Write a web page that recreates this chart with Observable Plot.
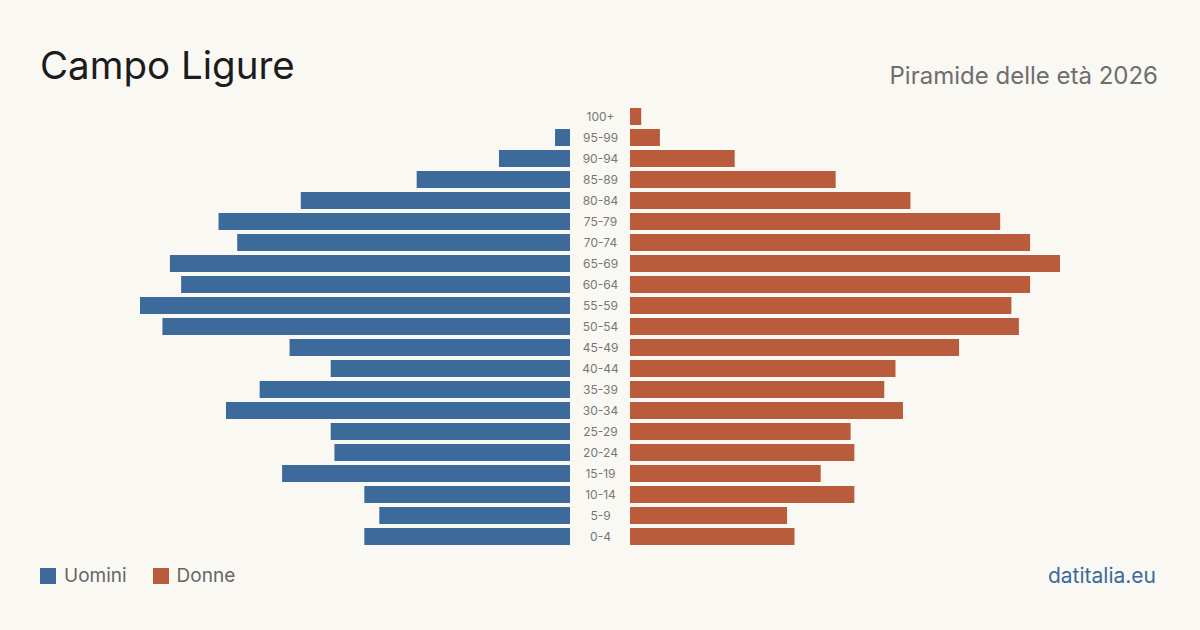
<!DOCTYPE html>
<html lang="it">
<head>
<meta charset="utf-8">
<title>Campo Ligure – Piramide delle età 2026</title>
<script src="https://cdn.jsdelivr.net/npm/d3@7"></script>
<script src="https://cdn.jsdelivr.net/npm/@observablehq/plot@0.6"></script>
<style>
  html, body { margin: 0; padding: 0; background: #faf8f3; }
  body { font-family: Inter, "Noto Sans", sans-serif; }
  #page { position: relative; width: 1200px; height: 630px; overflow: hidden; background: #faf8f3; }
  #title { position: absolute; left: 40px; top: 46px; font-size: 38.5px; line-height: 1; color: #1c1c1c; font-weight: 400; }
  #subtitle { position: absolute; right: 42px; top: 64px; font-size: 24px; line-height: 1; color: #6e6e6e; }
  #chart { position: absolute; left: 0; top: 100px; }
  #legend { position: absolute; left: 40px; top: 566px; display: flex; align-items: center; font-size: 19px; color: #666; line-height: 1; }
  .item { display: flex; align-items: center; margin-right: 26px; }
  .swatch { width: 16px; height: 16px; margin-right: 8px; }
  #source { position: absolute; right: 44px; top: 565px; font-size: 21px; line-height: 1; color: #3b6a9b; }
</style>
</head>
<body>
<div id="page">
  <div id="title">Campo Ligure</div>
  <div id="subtitle">Piramide delle età 2026</div>
  <div id="chart"></div>
  <div id="legend"></div>
  <div id="source">datitalia.eu</div>
</div>
<script>
// Age classes, oldest first (top of the pyramid)
const ageClasses = ["100+", "95-99", "90-94", "85-89", "80-84", "75-79", "70-74", "65-69", "60-64", "55-59",
  "50-54", "45-49", "40-44", "35-39", "30-34", "25-29", "20-24", "15-19", "10-14", "5-9", "0-4"];

// Residents per age class
const men   = [0, 4, 19, 41, 72, 94, 89, 107, 104, 115, 109, 75, 64, 83, 92, 64, 63, 77, 55, 51, 55];
const women = [3, 8, 28, 55, 75, 99, 107, 115, 107, 102, 104, 88, 71, 68, 73, 59, 60, 51, 60, 42, 44];

const seriesNames = ["Uomini", "Donne"];
const seriesColors = ["#3b6a9b", "#b95c3c"];

const rows = ageClasses.map((age, i) => ({age, men: men[i], women: women[i]}));
const maxValue = d3.max([...men, ...women]);

const chart = Plot.plot({
  width: 1200,
  height: 455,
  marginLeft: 170,
  marginRight: 170,
  marginTop: 0,
  marginBottom: 0,
  style: {background: "transparent", fontFamily: "Inter, sans-serif"},
  x: {domain: [-maxValue, maxValue], axis: null},
  y: {domain: ageClasses, range: [4, 449], padding: 4 / 21, axis: null},
  marks: [
    // men to the left of the central label column
    Plot.barX(rows.filter(d => d.men > 0), {x: d => -d.men, y: "age", fill: seriesColors[0], dx: -30}),
    // women to the right
    Plot.barX(rows, {x: "women", y: "age", fill: seriesColors[1], dx: 30}),
    Plot.text(rows, {x: () => 0, y: "age", text: "age", fontSize: 12, fill: "#777"})
  ]
});
document.getElementById("chart").appendChild(chart);

// Legend
const legend = document.getElementById("legend");
seriesNames.forEach((name, i) => {
  const item = document.createElement("div");
  item.className = "item";
  const sw = document.createElement("span");
  sw.className = "swatch";
  sw.style.background = seriesColors[i];
  const label = document.createElement("span");
  label.textContent = name;
  item.appendChild(sw);
  item.appendChild(label);
  legend.appendChild(item);
});
</script>
</body>
</html>
